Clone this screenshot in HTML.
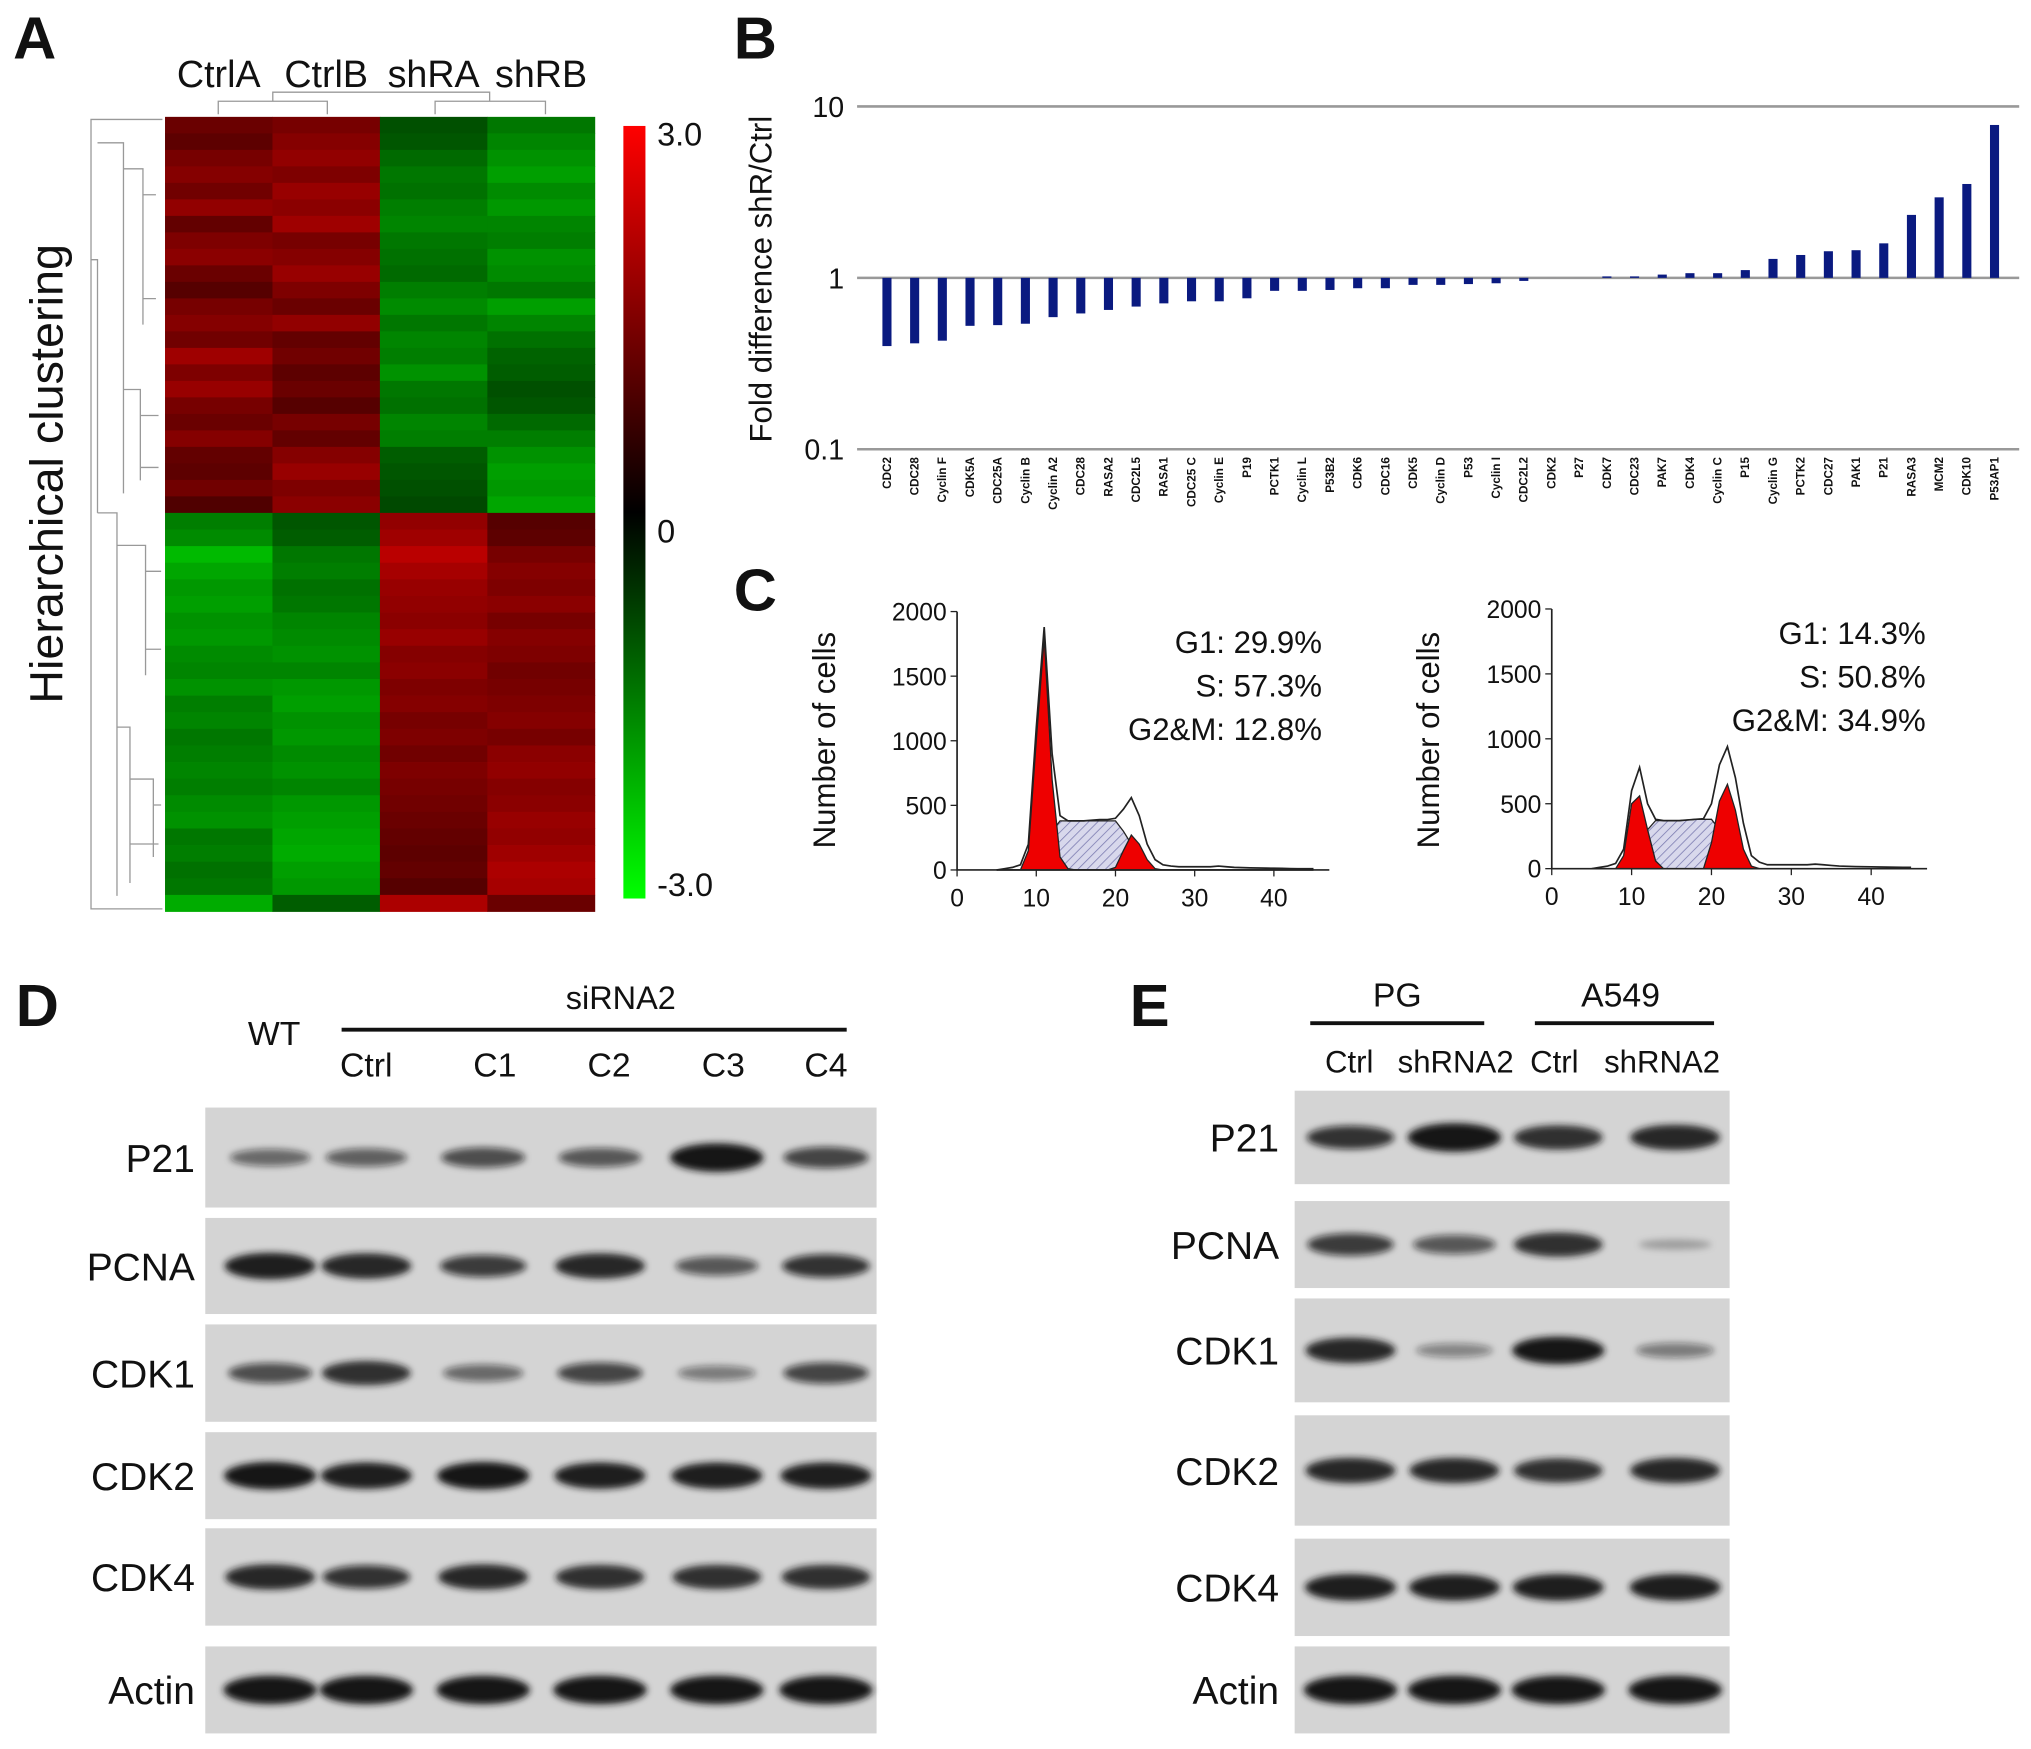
<!DOCTYPE html>
<html><head><meta charset="utf-8"><style>
html,body{margin:0;padding:0;background:#fff;}
svg{display:block;font-family:"Liberation Sans",Arial,sans-serif;}
</style></head><body>
<svg id="fig" xmlns="http://www.w3.org/2000/svg" width="2031" height="1749" viewBox="0 0 1564 1347">
<defs>
<pattern id="hatch" patternUnits="userSpaceOnUse" width="5" height="5" patternTransform="rotate(45)"><rect width="5" height="5" fill="#d8d8ec"/><line x1="0" y1="0" x2="0" y2="5" stroke="#7a7ab0" stroke-width="1.2"/></pattern>
<filter id="blur" x="-30%" y="-80%" width="160%" height="260%"><feGaussianBlur stdDeviation="2.6"/></filter>
<linearGradient id="cbar" x1="0" y1="0" x2="0" y2="1"><stop offset="0" stop-color="#ff0000"/><stop offset="0.5" stop-color="#000"/><stop offset="1" stop-color="#00ff00"/></linearGradient>
</defs>
<g id="root"></g>
</svg>
<script>
// ---------- data ----------
const hmColumns = ["CtrlA","CtrlB","shRA","shRB"];
const hmCtrlATop = [1.6,1.4,1.8,2.0,1.7,2.2,1.5,1.9,2.1,1.6,1.3,1.8,2.0,1.7,2.4,1.9,2.3,1.8,1.6,2.0,1.5,1.4,1.7,1.2];
const hmCtrlBTop = [1.8,2.0,2.2,1.9,2.3,2.1,2.4,1.8,2.0,2.3,1.9,1.6,2.2,1.5,1.7,1.4,1.6,1.3,1.8,1.5,2.0,2.3,1.9,2.1];
const hmShRATop = [-1.2,-1.3,-1.6,-1.8,-1.7,-1.9,-2.0,-1.8,-1.7,-1.6,-1.9,-2.1,-1.8,-2.0,-1.9,-2.2,-1.8,-1.7,-2.0,-1.9,-1.4,-1.3,-1.2,-1.1];
const hmShRBTop = [-1.8,-2.0,-2.2,-2.4,-2.1,-2.3,-2.0,-1.9,-2.2,-2.1,-1.8,-2.4,-2.0,-1.7,-1.5,-1.4,-1.2,-1.3,-1.6,-1.9,-2.2,-2.4,-2.3,-2.5];
const hmCtrlABot = [-1.9,-2.1,-2.8,-2.5,-2.3,-2.4,-2.2,-2.3,-2.1,-2.0,-2.2,-1.9,-2.0,-1.8,-1.9,-2.0,-1.9,-2.1,-2.2,-1.8,-1.9,-1.7,-1.8,-2.6];
const hmCtrlBBot = [-1.3,-1.4,-1.8,-1.9,-1.7,-1.8,-2.0,-2.1,-2.2,-2.0,-2.3,-2.4,-2.2,-2.3,-2.1,-2.2,-2.0,-2.3,-2.4,-2.5,-2.6,-2.4,-2.3,-1.4];
const hmShRABot = [2.2,2.4,2.8,2.5,2.3,2.2,2.1,2.3,2.0,2.1,1.9,2.0,1.8,1.9,1.7,1.9,1.8,1.7,1.6,1.5,1.4,1.5,1.3,2.6];
const hmShRBBot = [1.3,1.4,1.8,2.0,1.9,2.1,1.8,2.0,1.9,1.7,1.8,1.9,2.0,1.8,2.1,2.2,2.0,2.1,2.3,2.2,2.4,2.6,2.5,1.6];

const genes = ["CDC2","CDC28","Cyclin F","CDK5A","CDC25A","Cyclin B","Cyclin A2","CDC28","RASA2","CDC2L5","RASA1","CDC25 C","Cyclin E","P19","PCTK1","Cyclin L","P53B2","CDK6","CDC16","CDK5","Cyclin D","P53","Cyclin I","CDC2L2","CDK2","P27","CDK7","CDC23","PAK7","CDK4","Cyclin C","P15","Cyclin G","PCTK2","CDC27","PAK1","P21","RASA3","MCM2","CDK10","P53AP1"];
const foldValues = [0.40,0.415,0.43,0.525,0.53,0.54,0.59,0.62,0.65,0.68,0.71,0.73,0.73,0.76,0.84,0.84,0.85,0.87,0.87,0.91,0.91,0.92,0.93,0.96,1.0,1.0,1.02,1.02,1.045,1.065,1.065,1.11,1.29,1.36,1.43,1.45,1.59,2.33,2.95,3.53,7.8];
const foldTicks = [10,1,0.1];
const foldTickLabels = ["10","1","0.1"];

const fcChannels = [5,6,7,8,9,10,11,12,13,14,15,16,17,18,19,20,21,22,23,24,25,26,27,28,29,30,31,32,33,34,35,36,37,38,39,40,41,42,43,44,45];
const fcLeftTotal = [0,10,20,40,200,1100,1880,900,420,380,380,380,385,390,390,400,470,560,420,200,80,40,30,25,25,25,25,25,30,25,20,18,16,15,14,13,12,11,10,10,10];
const fcLeftG1 = [0,0,0,0,150,1000,1800,700,100,10,0,0,0,0,0,0,0,0,0,0,0,0,0,0,0,0,0,0,0,0,0,0,0,0,0,0,0,0,0,0,0];
const fcLeftS = [0,0,0,0,0,0,100,300,380,380,380,380,380,380,380,380,300,200,80,10,0,0,0,0,0,0,0,0,0,0,0,0,0,0,0,0,0,0,0,0,0];
const fcLeftG2 = [0,0,0,0,0,0,0,0,0,0,0,0,0,0,0,20,150,270,200,80,10,0,0,0,0,0,0,0,0,0,0,0,0,0,0,0,0,0,0,0,0];
const fcRightTotal = [0,10,20,40,150,600,780,500,380,370,370,370,375,380,385,500,800,940,700,350,100,50,30,30,30,30,30,30,35,30,25,20,18,16,15,14,13,12,11,10,10];
const fcRightG1 = [0,0,0,0,100,500,560,300,60,0,0,0,0,0,0,0,0,0,0,0,0,0,0,0,0,0,0,0,0,0,0,0,0,0,0,0,0,0,0,0,0];
const fcRightS = [0,0,0,0,0,0,150,300,370,370,370,370,375,380,380,380,300,200,60,0,0,0,0,0,0,0,0,0,0,0,0,0,0,0,0,0,0,0,0,0,0];
const fcRightG2 = [0,0,0,0,0,0,0,0,0,0,0,0,0,0,0,200,520,650,450,150,20,0,0,0,0,0,0,0,0,0,0,0,0,0,0,0,0,0,0,0,0];
const fcYTicks = [0,500,1000,1500,2000];
const fcXTicks = [0,10,20,30,40];
const fcLeftStats = ["G1: 29.9%","S: 57.3%","G2&M: 12.8%"];
const fcRightStats = ["G1: 14.3%","S: 50.8%","G2&M: 34.9%"];

const dLanes = ["WT","Ctrl","C1","C2","C3","C4"];
const dRows = ["P21","PCNA","CDK1","CDK2","CDK4","Actin"];
const dP21 = [0.45,0.5,0.6,0.55,1.0,0.65];
const dPCNA = [0.9,0.85,0.7,0.85,0.55,0.75];
const dCDK1 = [0.6,0.8,0.45,0.65,0.35,0.65];
const dCDK2 = [0.95,0.9,0.95,0.9,0.9,0.9];
const dCDK4 = [0.85,0.75,0.85,0.8,0.8,0.8];
const dActin = [1,1,1,1,1,1];
const eLanes = ["Ctrl","shRNA2","Ctrl","shRNA2"];
const eRows = ["P21","PCNA","CDK1","CDK2","CDK4","Actin"];
const eP21 = [0.75,1.0,0.8,0.85];
const ePCNA = [0.7,0.55,0.8,0.12];
const eCDK1 = [0.85,0.3,0.95,0.35];
const eCDK2 = [0.85,0.85,0.8,0.85];
const eCDK4 = [0.9,0.9,0.9,0.9];
const eActin = [1,1,1,1];

// ---------- helpers ----------
const NS="http://www.w3.org/2000/svg";
const root=document.getElementById('root');
function mk(tag,attrs,parent){const e=document.createElementNS(NS,tag);for(const k in attrs)e.setAttribute(k,attrs[k]);(parent||root).appendChild(e);return e;}
function txt(s,x,y,size,anchor,parent,extra){const e=mk('text',Object.assign({x:x,y:y,'font-size':size,'text-anchor':anchor||'start',fill:'#111'},extra||{}),parent);e.textContent=s;return e;}

[["A",10,45],["B",565,45],["C",565,470],["D",12,790],["E",870,790]].forEach(p=>{
  const t=txt(p[0],p[1],p[2],46,'start',root,{'font-weight':'bold'});
  
  
});

// ---------- Panel A heatmap ----------
(function(){
  const g=mk('g',{});
  
  
  const x0=127,x1=458,y0=90,ymid=395,y1=702;
  const colW=(x1-x0)/4;
  const cols=[[hmCtrlATop,hmCtrlABot],[hmCtrlBTop,hmCtrlBBot],[hmShRATop,hmShRABot],[hmShRBTop,hmShRBBot]];
  function color(v){const t=Math.min(1,Math.abs(v)/3);const c=Math.round(255*t*0.78);return v>=0?`rgb(${c},0,0)`:`rgb(0,${c},0)`;}
  cols.forEach((pair,ci)=>{
    [[pair[0],y0,ymid],[pair[1],ymid,y1]].forEach(seg=>{
      const arr=seg[0],h=(seg[2]-seg[1])/arr.length;
      arr.forEach((v,ri)=>{
        const r=mk('rect',{x:x0+ci*colW,y:seg[1]+ri*h,width:colW+0.3,height:h+0.3,fill:color(v)},g);
        
        
      });
    });
    const l=txt(hmColumns[ci],x0+ci*colW+colW/2,67,29,'middle',g);
    
    
  });
  const dg=mk('g',{stroke:'#999',fill:'none','stroke-width':1},g);
  
  
  mk('path',{d:'M168 88 V78 H252 V88 M210 78 V71 H377 V78 M335 88 V78 H420 V88'},dg);
  const lg=mk('g',{stroke:'#999',fill:'none','stroke-width':1},g);
  
  
  mk('path',{d:'M125 92 H70 V700 H125 M70 200 H75 V395 M75 110 H95 V380 M95 130 H110 V250 M110 150 H120 M110 230 H120 M95 300 H108 V370 M108 320 H122 M108 360 H122 M75 395 H90 V690 M90 420 H112 V520 M112 440 H124 M112 500 H124 M90 560 H100 V680 M100 600 H118 V660 M118 620 H124 M100 650 H122'},lg);
  const yl=txt('Hierarchical clustering',48,365,36,'middle',g,{transform:'rotate(-90 48 365)'});
  
  
  const cb=mk('rect',{x:480,y:97,width:17,height:595,fill:'url(#cbar)'},g);
  
  
  [["3.0",112],["0",418],["-3.0",690]].forEach(a=>{const t=txt(a[0],506,a[1],25,'start',g);
    
    });
})();

// ---------- Panel B ----------
(function(){
  const g=mk('g',{});
  
  
  const base=214,dec=132;
  const y=v=>base-dec*Math.log10(v);
  const xL=660,xR=1555;
  const x=i=>683+i*(1536-683)/(genes.length-1);
  foldTicks.forEach((t,i)=>{
    const ln=mk('line',{x1:xL,x2:xR,y1:y(t),y2:y(t),stroke:'#999','stroke-width':2},g);
    
    
    const tl=txt(foldTickLabels[i],650,y(t)+8,22,'end',g);
    
    
  });
  genes.forEach((gn,i)=>{
    const v=foldValues[i];
    const top=Math.min(y(v),base),h=Math.abs(y(v)-base);
    const b=mk('rect',{x:x(i)-3.5,y:top,width:7,height:Math.max(h,0.01),fill:'#0a1a80'},g);
    
    
    const t=txt(gn,x(i)+3,352,9,'end',g,{transform:`rotate(-90 ${x(i)+3} 352)`,'font-weight':'bold'});
    
    
  });
  const yt=txt('Fold difference shR/Ctrl',594,215,24,'middle',g,{transform:'rotate(-90 594 215)'});
  
  
})();

// ---------- Panel C ----------
function flow(name,ax0,axY,pxPerUnit,ytop,total,g1,s,g2,stats,statX,statY,ylabX){
  const g=mk('g',{});
  
  
  const X=v=>ax0+v*pxPerUnit, Y=v=>axY-v*(axY-ytop)/2000;
  function poly(arr,fill,nm,stroke){
    let d=`M${X(fcChannels[0])} ${Y(0)}`;
    arr.forEach((v,i)=>d+=` L${X(fcChannels[i])} ${Y(v)}`);
    d+=` L${X(fcChannels[fcChannels.length-1])} ${Y(0)} Z`;
    const p=mk('path',{d:d,fill:fill,stroke:stroke||'#222','stroke-width':1},g);
    
    
  }
  poly(s,'url(#hatch)','s-phase-area');
  poly(g1,'#ee0000','g1-peak');
  poly(g2,'#ee0000','g2m-peak');
  let d='';total.forEach((v,i)=>d+=(i?' L':'M')+X(fcChannels[i])+' '+Y(v));
  const tl=mk('path',{d:d,fill:'none',stroke:'#222','stroke-width':1.3},g);
  
  
  const ax=mk('path',{d:`M${ax0} ${ytop} V${axY} H${X(47)}`,fill:'none',stroke:'#222','stroke-width':1.3},g);
  
  
  fcYTicks.forEach(t=>{
    mk('line',{x1:ax0-5,x2:ax0,y1:Y(t),y2:Y(t),stroke:'#222'},g);
    const l=txt(String(t),ax0-8,Y(t)+7,19,'end',g);
    
    
  });
  fcXTicks.forEach(t=>{
    mk('line',{x1:X(t),x2:X(t),y1:axY,y2:axY+5,stroke:'#222'},g);
    const l=txt(String(t),X(t),axY+28,19,'middle',g);
    
    
  });
  stats.forEach((s2,i)=>{const t=txt(s2,statX,statY+i*33.5,24,'end',g);
    
    });
  const yl=txt('Number of cells',ylabX,570,24,'middle',g,{transform:`rotate(-90 ${ylabX} 570)`});
  
  
}
flow('cell-cycle-histogram-ctrl',737,670,6.1,471,fcLeftTotal,fcLeftG1,fcLeftS,fcLeftG2,fcLeftStats,1018,503,643);
flow('cell-cycle-histogram-shrna',1195,669,6.15,469,fcRightTotal,fcRightG1,fcRightS,fcRightG2,fcRightStats,1483,496,1108);

// ---------- Western blots ----------
function blot(name,bx0,bx1,rowsY,rowNames,lanesX,data,bandRx,labelX){
  const g=mk('g',{});
  
  
  rowsY.forEach((ry,ri)=>{
    const r=mk('rect',{x:bx0,y:ry[0],width:bx1-bx0,height:ry[1]-ry[0],fill:'#d4d4d4'},g);
    
    
    const cy=(ry[0]+ry[1])/2;
    data[ri].forEach((v,li)=>{
      const e=mk('ellipse',{cx:lanesX[li],cy:cy,rx:bandRx*(0.75+0.25*v),ry:3+8*v,fill:'#141414','fill-opacity':Math.min(1,0.15+0.9*v),filter:'url(#blur)'},g);
      
      
    });
    const l=txt(rowNames[ri],labelX,cy+11,30,'end',g);
    
    
  });
}
blot('western-blot-d',158,675,[[853,930],[938,1012],[1020,1095],[1103,1170],[1177,1252],[1268,1335]],dRows,[208,282,372,462,552,636],[dP21,dPCNA,dCDK1,dCDK2,dCDK4,dActin],36,150);
blot('western-blot-e',997,1332,[[840,912],[925,992],[1000,1080],[1090,1175],[1185,1260],[1268,1335]],eRows,[1040,1120,1200,1290],[eP21,ePCNA,eCDK1,eCDK2,eCDK4,eActin],36,985);

(function(){
  const g=mk('g',{});
  
  
  let t=txt('WT',211,805,26,'middle',g);
  
  
  t=txt('siRNA2',478,777,25,'middle',g);
  
  
  mk('line',{x1:263,x2:652,y1:793,y2:793,stroke:'#111','stroke-width':3},g);
  [["Ctrl",282],["C1",381],["C2",469],["C3",557],["C4",636]].forEach(a=>{const l=txt(a[0],a[1],829,26,'middle',g);
    
    });
  t=txt('PG',1076,775,26,'middle',g);
  
  
  t=txt('A549',1248,775,26,'middle',g);
  
  
  mk('line',{x1:1009,x2:1143,y1:788,y2:788,stroke:'#111','stroke-width':3},g);
  mk('line',{x1:1182,x2:1320,y1:788,y2:788,stroke:'#111','stroke-width':3},g);
  [["Ctrl",1039],["shRNA2",1121],["Ctrl",1197],["shRNA2",1280]].forEach(a=>{const l=txt(a[0],a[1],826,24,'middle',g);
    
    });
})();
</script>
</body></html>
